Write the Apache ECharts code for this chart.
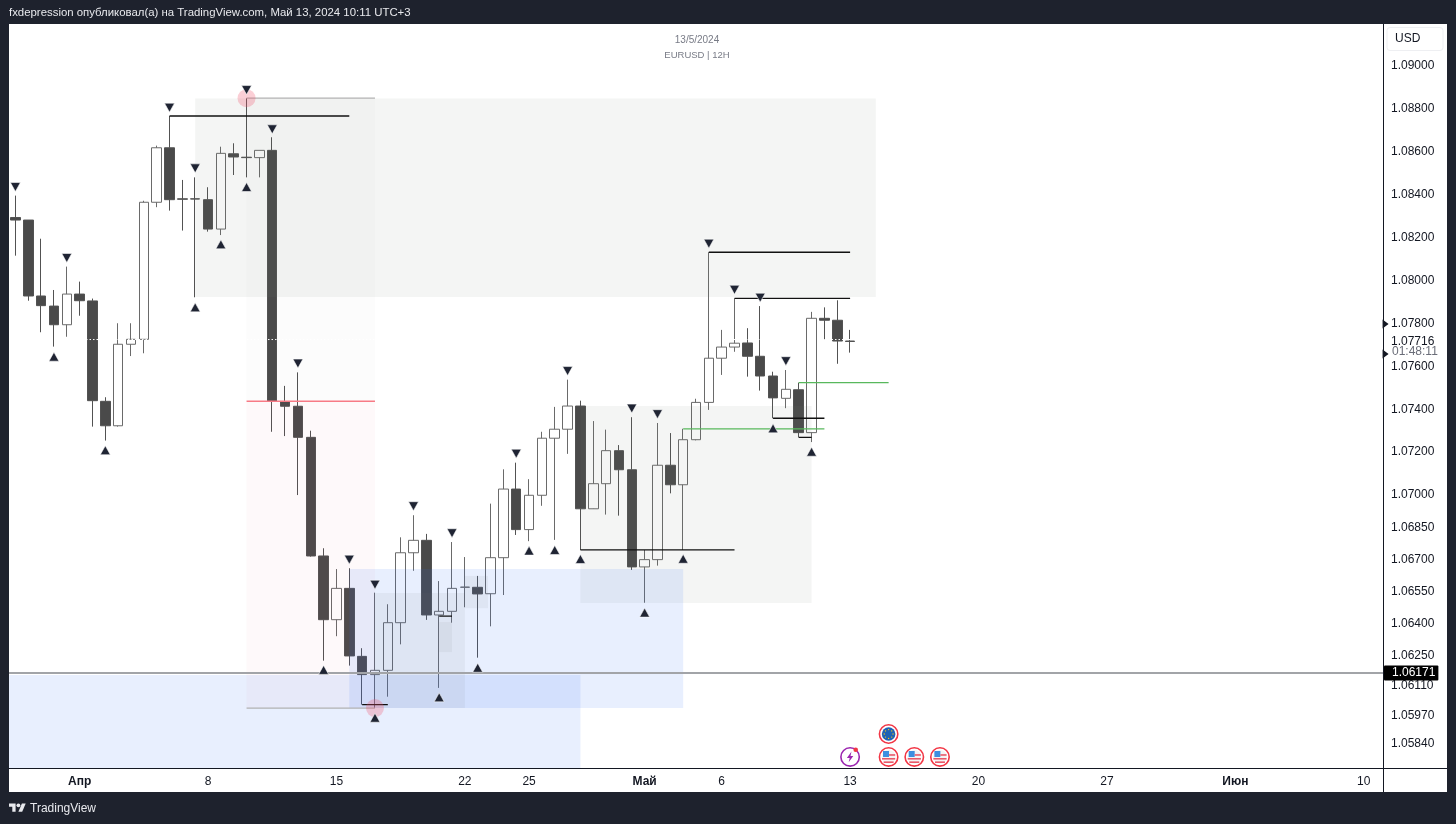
<!DOCTYPE html>
<html>
<head>
<meta charset="utf-8">
<style>
  html, body { margin: 0; padding: 0; background: #1e222d; }
  #chart { width: 1456px; height: 824px; }
</style>
<script src="https://cdn.jsdelivr.net/npm/echarts@6/dist/echarts.min.js"></script>
</head>
<body>
<div id="chart"></div>
<script>
// 12H bars, trading days only
const categories = [
  '03-27 12', '03-28 00', '03-28 12', '03-29 00', '03-29 12',
  '04-01 00', '04-01 12', '04-02 00', '04-02 12', '04-03 00', '04-03 12', '04-04 00', '04-04 12', '04-05 00', '04-05 12',
  '04-08 00', '04-08 12', '04-09 00', '04-09 12', '04-10 00', '04-10 12', '04-11 00', '04-11 12', '04-12 00', '04-12 12',
  '04-15 00', '04-15 12', '04-16 00', '04-16 12', '04-17 00', '04-17 12', '04-18 00', '04-18 12', '04-19 00', '04-19 12',
  '04-22 00', '04-22 12', '04-23 00', '04-23 12', '04-24 00', '04-24 12', '04-25 00', '04-25 12', '04-26 00', '04-26 12',
  '04-29 00', '04-29 12', '04-30 00', '04-30 12', '05-01 00', '05-01 12', '05-02 00', '05-02 12', '05-03 00', '05-03 12',
  '05-06 00', '05-06 12', '05-07 00', '05-07 12', '05-08 00', '05-08 12', '05-09 00', '05-09 12', '05-10 00', '05-10 12',
  '05-13 00', '05-13 12', '05-14 00', '05-14 12', '05-15 00', '05-15 12', '05-16 00', '05-16 12', '05-17 00', '05-17 12',
  '05-20 00', '05-20 12', '05-21 00', '05-21 12', '05-22 00', '05-22 12', '05-23 00', '05-23 12', '05-24 00', '05-24 12',
  '05-27 00', '05-27 12', '05-28 00', '05-28 12', '05-29 00', '05-29 12', '05-30 00', '05-30 12', '05-31 00', '05-31 12',
  '06-03 00', '06-03 12', '06-04 00', '06-04 12', '06-05 00', '06-05 12', '06-06 00', '06-06 12', '06-07 00', '06-07 12',
  '06-10 00', '06-10 12'
];
const tickDates = ['04-01 00', '04-08 00', '04-15 00', '04-22 00', '04-24 12', '05-01 00', '05-06 00', '05-13 00', '05-20 00', '05-27 00', '06-03 00', '06-10 00'];
const tickTexts = ['Апр', '8', '15', '22', '25', 'Май', '6', '13', '20', '27', 'Июн', '10'];
const monthTicks = ['Апр', 'Май', 'Июн'];
const priceTicks = [1.09, 1.088, 1.086, 1.084, 1.082, 1.08, 1.078, 1.07716, 1.076, 1.074, 1.072, 1.07, 1.0685, 1.067, 1.0655, 1.064, 1.0625, 1.0611, 1.0597, 1.0584];

const opens = [
  1.08294, 1.08282, 1.07928, 1.07881, 1.07794, 1.07937, 1.07905, 1.07437, 1.07323, 1.07703, 1.07726,
  1.08365, 1.08619, 1.08381, 1.08381, 1.08377, 1.0824, 1.08591, 1.08575, 1.08573, 1.08607, 1.07435,
  1.07414, 1.07269, 1.06716, 1.06419, 1.06565, 1.06248, 1.06163, 1.06183, 1.06405, 1.06731, 1.06789,
  1.06441, 1.06458, 1.0657, 1.0657, 1.0654, 1.06708, 1.07028, 1.06839, 1.06999, 1.07265, 1.07307,
  1.07415, 1.06936, 1.07053, 1.07207, 1.07118, 1.06665, 1.06699, 1.07139, 1.07048, 1.07258, 1.07432,
  1.07638, 1.0769, 1.07709, 1.07647, 1.07555, 1.07451, 1.07491, 1.07291, 1.07824, 1.07815, 1.07718
];
const closes = [
  1.08282, 1.07928, 1.07883, 1.07794, 1.07937, 1.07906, 1.0744, 1.07323, 1.07703, 1.07726, 1.08365,
  1.08619, 1.08377, 1.08379, 1.0838, 1.0824, 1.08593, 1.08576, 1.08573, 1.08607, 1.07437, 1.07414,
  1.07269, 1.06716, 1.06419, 1.06565, 1.0625, 1.06163, 1.06183, 1.06405, 1.06731, 1.06789, 1.06441,
  1.06458, 1.06565, 1.06571, 1.06539, 1.06708, 1.07028, 1.06839, 1.06999, 1.07265, 1.07307, 1.07415,
  1.06936, 1.07053, 1.07207, 1.07118, 1.06665, 1.06699, 1.07139, 1.07048, 1.07258, 1.07432, 1.07638,
  1.0769, 1.07708, 1.07647, 1.07555, 1.07453, 1.07493, 1.07291, 1.07824, 1.07815, 1.07718, 1.07716
];
const lows = [
  1.08116, 1.07906, 1.07759, 1.07692, 1.07738, 1.07836, 1.07319, 1.07254, 1.07319, 1.07648, 1.07661,
  1.08342, 1.08326, 1.08233, 1.07922, 1.08228, 1.08212, 1.08492, 1.08481, 1.08481, 1.07295, 1.07275,
  1.07, 1.06713, 1.06228, 1.06342, 1.06205, 1.06023, 1.06007, 1.0606, 1.06304, 1.06647, 1.06418,
  1.06101, 1.06405, 1.06477, 1.06242, 1.06388, 1.06534, 1.06814, 1.06785, 1.0695, 1.06791, 1.07192,
  1.06744, 1.06935, 1.06909, 1.06904, 1.06651, 1.06498, 1.06671, 1.07008, 1.06744, 1.07255, 1.07397,
  1.0756, 1.07668, 1.07552, 1.07487, 1.07358, 1.07405, 1.07269, 1.07247, 1.07726, 1.07612, 1.07664
];
const highs = [
  1.08396, 1.08282, 1.08195, 1.07956, 1.08065, 1.07995, 1.07916, 1.07456, 1.07801, 1.07801, 1.08372,
  1.08629, 1.08767, 1.08469, 1.08481, 1.08435, 1.08624, 1.0864, 1.0885, 1.08607, 1.08668, 1.07509,
  1.07572, 1.073, 1.06752, 1.06655, 1.06659, 1.06286, 1.06545, 1.06491, 1.06803, 1.06906, 1.06819,
  1.06599, 1.06781, 1.06711, 1.06623, 1.0696, 1.0712, 1.07151, 1.07074, 1.07295, 1.07411, 1.07538,
  1.0744, 1.07345, 1.07305, 1.07233, 1.07363, 1.06744, 1.07336, 1.07289, 1.07309, 1.07449, 1.08132,
  1.0777, 1.07917, 1.07778, 1.07881, 1.07575, 1.07583, 1.07524, 1.07854, 1.07875, 1.07908, 1.0777
];

// swing markers: [bar, price]
const swingHighs = [
  [0, 1.08436], [4, 1.08105], [12, 1.08806], [14, 1.08523], [18, 1.08888], [20, 1.08705], [22, 1.07613],
  [26, 1.06699], [28, 1.06582], [31, 1.06948], [34, 1.06822], [39, 1.07193], [43, 1.07578], [48, 1.07403],
  [50, 1.07377], [54, 1.08172], [56, 1.07957], [58, 1.0792], [60, 1.07624]
];
const swingLows = [
  [3, 1.07645], [7, 1.07209], [14, 1.07875], [16, 1.08169], [18, 1.08436], [24, 1.06185], [28, 1.05962],
  [33, 1.06057], [36, 1.06195], [40, 1.06741], [42, 1.06744], [44, 1.06702], [49, 1.06452], [52, 1.06703],
  [59, 1.07311], [62, 1.07202]
];
const extremes = [[18, 1.0885], [28, 1.06007]];

// zones: [fromBar, toBar, priceHigh, priceLow]
const greyZones = [[14, 67, 1.08849, 1.07923], [44, 62, 1.07415, 1.06497]];
const blueZones = [[-0.5, 44, 1.06161, 1.05728], [26, 52, 1.06655, 1.06007]];
const slateZones = [[28, 35, 1.06543, 1.06007], [33, 34, 1.06408, 1.06268], [35, 36.8, 1.06623, 1.06473]];
const rewardZones = [[18, 28, 1.0885, 1.07437]];
const riskZones = [[18, 28, 1.07437, 1.06007]];

// levels: [fromBar, toBar, price]
const blackLevels = [
  [12, 26, 1.08767], [54, 65, 1.08132], [56, 65, 1.07917], [44, 56, 1.06744],
  [59, 63, 1.07358], [61, 62, 1.07269], [27, 29, 1.06023], [33, 34, 1.06436]
];
const greenLevels = [[52, 63, 1.07309], [61, 68, 1.07524]];
const greyLevels = [[18, 28, 1.0885], [18, 28, 1.06007]];
const redLevels = [[18, 28, 1.07437]];
const lastPriceGuide = [-0.5, 106.5, 1.07725];
const horizontalLevel = [-0.5, 106.5, 1.06171];
const priceArrows = [[106.7, 1.07798], [106.7, 1.07658]];

const euEvents = [[68, 1.05886]];
const usEvents = [[68, 1.05779], [70, 1.05779], [72, 1.05779]];
const alertEvents = [[65, 1.05779]];

const FONT = '"Liberation Sans", Arial, sans-serif';
const INK = '#131722';

function zoneSeries(zones, color) {
  return {
    type: 'custom',
    xAxisIndex: 1,
    z: 5,
    silent: true,
    encode: { x: [0, 1], y: [2, 3] },
    data: zones,
    renderItem: function (params, api) {
      const a = api.coord([api.value(0), api.value(2)]);
      const b = api.coord([api.value(1), api.value(3)]);
      return { type: 'rect', shape: { x: a[0], y: a[1], width: b[0] - a[0], height: b[1] - a[1] }, style: { fill: color } };
    }
  };
}

function levelSeries(level, color, width) {
  return {
    type: 'line',
    xAxisIndex: 1,
    z: 6,
    silent: true,
    showSymbol: false,
    lineStyle: { color: color, width: width },
    data: [[level[0], level[2]], [level[1], level[2]]]
  };
}

function eventSeries(data, drawIcon) {
  return {
    type: 'custom',
    xAxisIndex: 1,
    z: 8,
    silent: true,
    encode: { x: 0, y: 1 },
    data: data,
    renderItem: function (params, api) {
      const p = api.coord([api.value(0), api.value(1)]);
      return { type: 'group', x: p[0], y: p[1], children: drawIcon() };
    }
  };
}

function ring(color) {
  return [
    { type: 'circle', shape: { cx: 0, cy: 0, r: 9.2 }, style: { fill: '#fff', stroke: color, lineWidth: 1.6 } }
  ];
}

function euIcon() {
  const kids = ring('#f23645');
  kids.push({ type: 'circle', shape: { cx: 0, cy: 0, r: 6.8 }, style: { fill: '#1e62b4' } });
  [[0, -4.4], [3.1, -3.1], [4.4, 0], [3.1, 3.1], [0, 4.4], [-3.1, 3.1], [-4.4, 0], [-3.1, -3.1]].forEach(function (s) {
    kids.push({ type: 'circle', shape: { cx: s[0], cy: s[1], r: 0.7 }, style: { fill: '#f5c518' } });
  });
  return kids;
}

function usIcon() {
  const kids = ring('#f23645');
  kids.push({ type: 'circle', shape: { cx: 0, cy: 0, r: 6.9 }, style: { fill: '#f4f4f4' } });
  kids.push({ type: 'rect', shape: { x: -5.6, y: -6, width: 6, height: 6 }, style: { fill: '#3d8fe0' } });
  kids.push({ type: 'rect', shape: { x: 0.4, y: -2.8, width: 6.2, height: 1.6 }, style: { fill: '#e8596a' } });
  kids.push({ type: 'rect', shape: { x: -6.6, y: 1, width: 13.2, height: 1.6 }, style: { fill: '#e8596a' } });
  kids.push({ type: 'rect', shape: { x: -5, y: 4.4, width: 10, height: 1.6 }, style: { fill: '#e8596a' } });
  return kids;
}

function alertIcon() {
  const kids = ring('#9c27b0');
  kids.push({ type: 'polygon', shape: { points: [[1.4, -5.4], [-3.2, 1], [-0.4, 1], [-1.4, 5.4], [3.2, -1], [0.4, -1]] }, style: { fill: '#9c27b0' } });
  kids.push({ type: 'circle', shape: { cx: 5.6, cy: -7.2, r: 2.3 }, style: { fill: '#f23645' } });
  return kids;
}

const chart = echarts.init(document.getElementById('chart'), null, { renderer: 'canvas' });

const candles = opens.map(function (o, i) { return [o, closes[i], lows[i], highs[i]]; });

const triangleStyle = { color: '#1f2433', opacity: 1, borderColor: 'rgba(255,255,255,0.7)', borderWidth: 0.8 };

const horizontalSeries = levelSeries(horizontalLevel, '#a2a4a8', 2);
horizontalSeries.endLabel = {
  show: true,
  distance: 1,
  formatter: function () { return horizontalLevel[2].toFixed(5); },
  backgroundColor: '#000',
  color: '#fff',
  fontFamily: FONT,
  fontSize: 12,
  padding: [2, 3, 1, 8],
  borderRadius: 1
};
const guideSeries = levelSeries(lastPriceGuide, '#fff', 1);
guideSeries.lineStyle.type = [1.5, 2];

const series = [
  {
    type: 'candlestick',
    name: 'EURUSD',
    z: 2,
    barWidth: 10,
    silent: true,
    itemStyle: { color: '#ffffff', color0: '#4a4a4a', borderColor: '#6a6a6a', borderColor0: '#525252', borderWidth: 1 },
    data: candles
  },
  zoneSeries(rewardZones, 'rgba(110,110,110,0.02)'),
  zoneSeries(riskZones, 'rgba(225,90,120,0.035)'),
  zoneSeries(greyZones, 'rgba(110,130,120,0.08)'),
  zoneSeries(blueZones, 'rgba(50,110,250,0.11)'),
  zoneSeries(slateZones, 'rgba(110,110,110,0.08)'),
  horizontalSeries,
  guideSeries
];

blackLevels.forEach(function (l) { series.push(levelSeries(l, '#111', 1.3)); });
greenLevels.forEach(function (l) { series.push(levelSeries(l, '#58b85c', 1.2)); });
greyLevels.forEach(function (l) { series.push(levelSeries(l, '#b2b2b2', 1.2)); });
redLevels.forEach(function (l) { series.push(levelSeries(l, '#f77a85', 1.4)); });

series.push(
  { type: 'scatter', xAxisIndex: 1, z: 7, silent: true, symbol: 'circle', symbolSize: 18, itemStyle: { color: 'rgba(240,80,105,0.34)' }, data: extremes },
  { type: 'scatter', xAxisIndex: 1, z: 8, silent: true, symbol: 'triangle', symbolRotate: 180, symbolSize: [10, 9], itemStyle: triangleStyle, data: swingHighs },
  { type: 'scatter', xAxisIndex: 1, z: 8, silent: true, symbol: 'triangle', symbolSize: [10, 9], itemStyle: triangleStyle, data: swingLows },
  { type: 'scatter', xAxisIndex: 1, z: 8, silent: true, clip: false, symbol: 'triangle', symbolRotate: -90, symbolSize: [9, 6], itemStyle: { color: '#131722', opacity: 1 }, data: priceArrows },
  eventSeries(euEvents, euIcon),
  eventSeries(usEvents, usIcon),
  eventSeries(alertEvents, alertIcon)
);

chart.setOption({
  animation: false,
  backgroundColor: '#1e222d',
  grid: { left: 9, top: 24, width: 1374, height: 744 },
  xAxis: [
    {
      type: 'category',
      data: categories,
      boundaryGap: true,
      axisLine: { lineStyle: { color: '#131722', width: 1 } },
      axisTick: { show: false },
      splitLine: { show: false },
      axisLabel: {
        margin: 8,
        interval: function (i, value) { return tickDates.indexOf(value) >= 0; },
        formatter: function (value) {
          const t = tickTexts[tickDates.indexOf(value)];
          return monthTicks.indexOf(t) >= 0 ? '{m|' + t + '}' : t;
        },
        color: INK,
        fontFamily: FONT,
        fontSize: 12,
        rich: { m: { fontWeight: 'bold', color: INK, fontFamily: FONT, fontSize: 12 } }
      }
    },
    { type: 'value', show: false, min: -0.5, max: 106.5, splitLine: { show: false } }
  ],
  yAxis: {
    type: 'value',
    position: 'right',
    min: 1.057276,
    max: 1.09196,
    scale: true,
    splitLine: { show: false },
    axisTick: { show: false },
    axisLine: { show: false, onZero: false },
    axisLabel: {
      customValues: priceTicks,
      margin: 8,
      color: INK,
      fontFamily: FONT,
      fontSize: 12,
      formatter: function (v) { return v.toFixed(5); }
    }
  },
  graphic: [
    // page frame
    { type: 'rect', z: -10, silent: true, shape: { x: 9, y: 24, width: 1438, height: 768 }, style: { fill: '#fff' } },
    { type: 'line', z: 20, silent: true, shape: { x1: 1383.5, y1: 24, x2: 1383.5, y2: 792 }, style: { stroke: '#131722', lineWidth: 1 } },
    { type: 'line', z: 20, silent: true, shape: { x1: 9, y1: 768.5, x2: 1447, y2: 768.5 }, style: { stroke: '#131722', lineWidth: 1 } },
    { type: 'text', silent: true, style: { x: 9, y: 13, text: 'fxdepression опубликовал(а) на TradingView.com, Май 13, 2024 10:11 UTC+3', fill: '#e8e9ed', font: '11.4px ' + FONT, verticalAlign: 'middle' } },
    { type: 'text', silent: true, style: { x: 697, y: 40, text: '13/5/2024', fill: '#787b86', font: '10px ' + FONT, align: 'center', verticalAlign: 'middle' } },
    { type: 'text', silent: true, style: { x: 697, y: 55, text: 'EURUSD | 12H', fill: '#787b86', font: '9.5px ' + FONT, align: 'center', verticalAlign: 'middle' } },
    // currency button
    { type: 'rect', silent: true, shape: { x: 1387, y: 27.5, width: 56, height: 23, r: 3 }, style: { fill: '#fff', stroke: '#eeeff2', lineWidth: 1 } },
    { type: 'text', silent: true, style: { x: 1395, y: 39, text: 'USD', fill: INK, font: '12px ' + FONT, verticalAlign: 'middle' } },
    { type: 'text', silent: true, style: { x: 1392, y: 352, text: '01:48:11', fill: '#6a6d78', font: '12px ' + FONT, verticalAlign: 'middle' } },
    // TradingView logo
    { type: 'polygon', silent: true, shape: { points: [[9, 803.4], [15.6, 803.4], [15.6, 811.8], [12.3, 811.8], [12.3, 806.7], [9, 806.7]] }, style: { fill: '#e8e9ed' } },
    { type: 'circle', silent: true, shape: { cx: 18.4, cy: 805.3, r: 1.9 }, style: { fill: '#e8e9ed' } },
    { type: 'polygon', silent: true, shape: { points: [[18.4, 811.8], [22.2, 811.8], [25.7, 803.4], [21.9, 803.4]] }, style: { fill: '#e8e9ed' } },
    { type: 'text', silent: true, style: { x: 30, y: 809, text: 'TradingView', fill: '#e8e9ed', font: '12px ' + FONT, verticalAlign: 'middle' } }
  ],
  series: series
});
</script>
</body>
</html>
